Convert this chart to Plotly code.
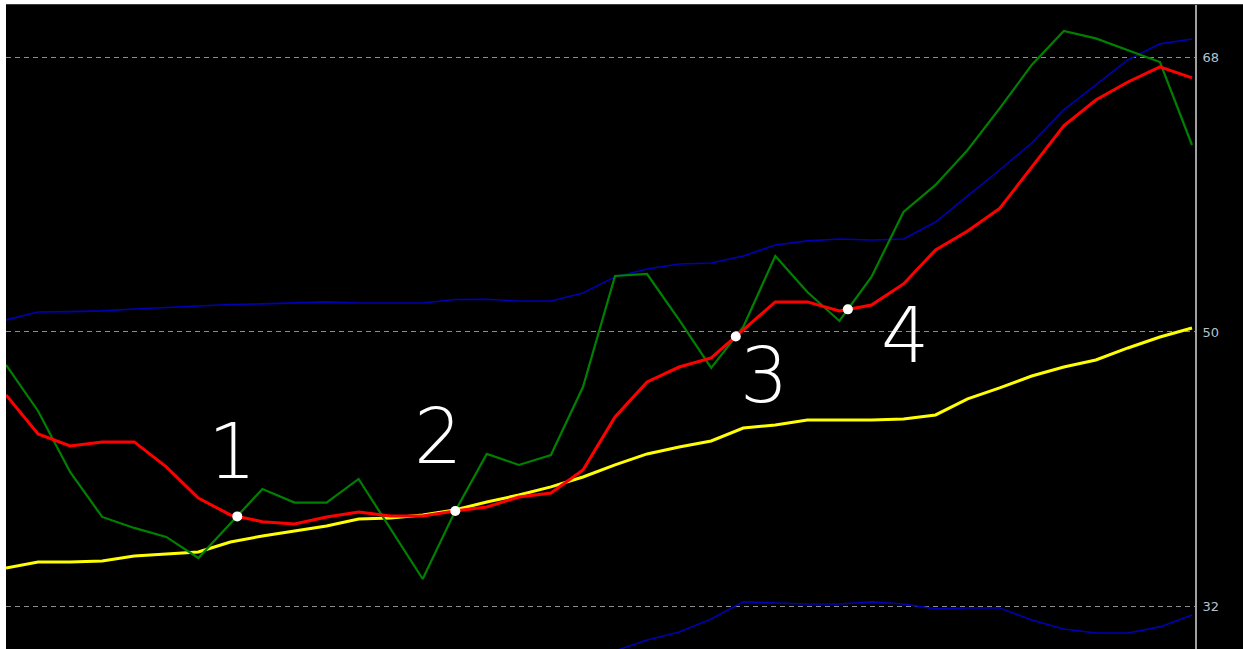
import plotly.graph_objects as go

# ---------------- data ----------------
bars = list(range(38))

green_line = [47.84, 44.82, 40.82, 37.87, 37.15, 36.56, 35.18, 37.41, 39.70, 38.81,
              38.81, 40.36, 37.08, 33.80, 38.20, 42.00, 41.28, 41.93, 46.39, 53.67,
              53.80, 50.79, 47.64, 50.33, 54.98, 52.62, 50.72, 53.61, 57.87, 59.64,
              61.93, 64.66, 67.51, 69.74, 69.25, 68.49, 67.70, 62.26]

red_line = [45.87, 43.31, 42.52, 42.79, 42.79, 41.15, 39.11, 38.00, 37.56, 37.41,
            37.87, 38.20, 37.93, 37.93, 38.26, 38.52, 39.18, 39.44, 40.95, 44.43,
            46.72, 47.70, 48.30, 50.13, 51.97, 51.97, 51.38, 51.77, 53.15, 55.38,
            56.62, 58.10, 60.82, 63.51, 65.21, 66.39, 67.38, 66.66]

yellow_line = [34.52, 34.92, 34.92, 34.98, 35.31, 35.44, 35.57, 36.23, 36.62, 36.95,
               37.28, 37.74, 37.80, 38.00, 38.33, 38.85, 39.31, 39.84, 40.49, 41.28,
               42.00, 42.46, 42.85, 43.70, 43.90, 44.23, 44.23, 44.23, 44.30, 44.56,
               45.61, 46.33, 47.11, 47.70, 48.16, 48.95, 49.67, 50.26]

upper_band = [50.79, 51.31, 51.33, 51.38, 51.51, 51.61, 51.67, 51.80, 51.84, 51.90,
              51.97, 51.90, 51.90, 51.90, 52.13, 52.14, 52.03, 52.03, 52.56, 53.61,
              54.13, 54.46, 54.52, 54.98, 55.70, 55.97, 56.10, 56.03, 56.10, 57.21,
              58.92, 60.62, 62.39, 64.56, 66.20, 67.84, 68.89, 69.21]

lower_band_bars = list(range(19, 38))
lower_band = [29.08, 29.80, 30.33, 31.18, 32.30, 32.23, 32.16, 32.16, 32.30, 32.16,
              31.84, 31.90, 31.90, 31.11, 30.52, 30.26, 30.26, 30.66, 31.44]

level_ticks = [32, 50, 68]
level_labels = ["32", "50", "68"]
signal_labels = ["1", "2", "3", "4"]

# ---------------- crossings (green crossing up through red) ----------------
cross_x, cross_y = [], []
for i in range(len(bars) - 1):
    d0 = green_line[i] - red_line[i]
    d1 = green_line[i + 1] - red_line[i + 1]
    if d0 < 0 <= d1:
        t = d0 / (d0 - d1)
        cross_x.append(bars[i] + t)
        cross_y.append(red_line[i] + t * (red_line[i + 1] - red_line[i]))

# ---------------- figure ----------------
W, H = 1243, 649
ml, mr, mt, mb = 6, 48, 5, 0
pw, ph = W - ml - mr, H - mt - mb

fig = go.Figure()
fig.add_trace(go.Scatter(x=bars, y=upper_band, mode="lines",
                         line=dict(color="#0000b4", width=1.6), hoverinfo="skip"))
fig.add_trace(go.Scatter(x=lower_band_bars, y=lower_band, mode="lines",
                         line=dict(color="#0000b4", width=1.6), hoverinfo="skip"))
fig.add_trace(go.Scatter(x=bars, y=yellow_line, mode="lines",
                         line=dict(color="#ffff00", width=3), hoverinfo="skip"))
fig.add_trace(go.Scatter(x=bars, y=green_line, mode="lines",
                         line=dict(color="#008000", width=2.2), hoverinfo="skip"))
fig.add_trace(go.Scatter(x=bars, y=red_line, mode="lines",
                         line=dict(color="#ff0000", width=3), hoverinfo="skip"))
fig.add_trace(go.Scatter(x=cross_x, y=cross_y, mode="markers",
                         marker=dict(color="white", size=10, line=dict(width=0)),
                         hoverinfo="skip"))

label_shifts = [(-5, 65), (-17, 74), (28, -39), (57, -26)]
for lab, cx, cy, (dx, dy) in zip(signal_labels, cross_x, cross_y, label_shifts):
    fig.add_annotation(x=cx, y=cy, text=lab, showarrow=False, xshift=dx, yshift=dy,
                       font=dict(family="DejaVu Sans", size=76, color="white", weight=300))

fig.update_layout(
    width=W, height=H,
    margin=dict(l=ml, r=mr, t=mt, b=mb, autoexpand=False),
    paper_bgcolor="black", plot_bgcolor="black",
    showlegend=False,
    xaxis=dict(range=[0, 37.094], showgrid=False, zeroline=False, showticklabels=False,
               ticks="", showline=False, fixedrange=True),
    yaxis=dict(range=[29.21, 71.44], side="right", tickvals=level_ticks, ticktext=level_labels,
               showgrid=True, gridcolor="#8c8c8c", gridwidth=1, griddash="5px,4px",
               zeroline=False, showline=True, linecolor="#a0a0a0", linewidth=2,
               ticks="outside", ticklen=3, tickcolor="black",
               tickfont=dict(family="DejaVu Sans", size=13, color="#b4c3d2"),
               fixedrange=True),
)

# white strips of the surrounding page (top and left edges of the screenshot)
fig.add_shape(type="rect", xref="paper", yref="paper", x0=-ml / pw, x1=1 + mr / pw,
              y0=1 + 1 / ph, y1=1 + (mt + 2) / ph, fillcolor="white", line_width=0, layer="above")
fig.add_shape(type="rect", xref="paper", yref="paper", x0=-ml / pw, x1=1 + mr / pw,
              y0=1, y1=1 + 1 / ph, fillcolor="#3c3c3c", line_width=0, layer="above")
fig.add_shape(type="rect", xref="paper", yref="paper", x0=-(ml + 2) / pw, x1=0,
              y0=-0.01, y1=1 + (mt + 2) / ph, fillcolor="white", line_width=0, layer="above")

fig.write_html("out.html", config={"displayModeBar": False},
               post_script="document.body.style.margin='0';")
